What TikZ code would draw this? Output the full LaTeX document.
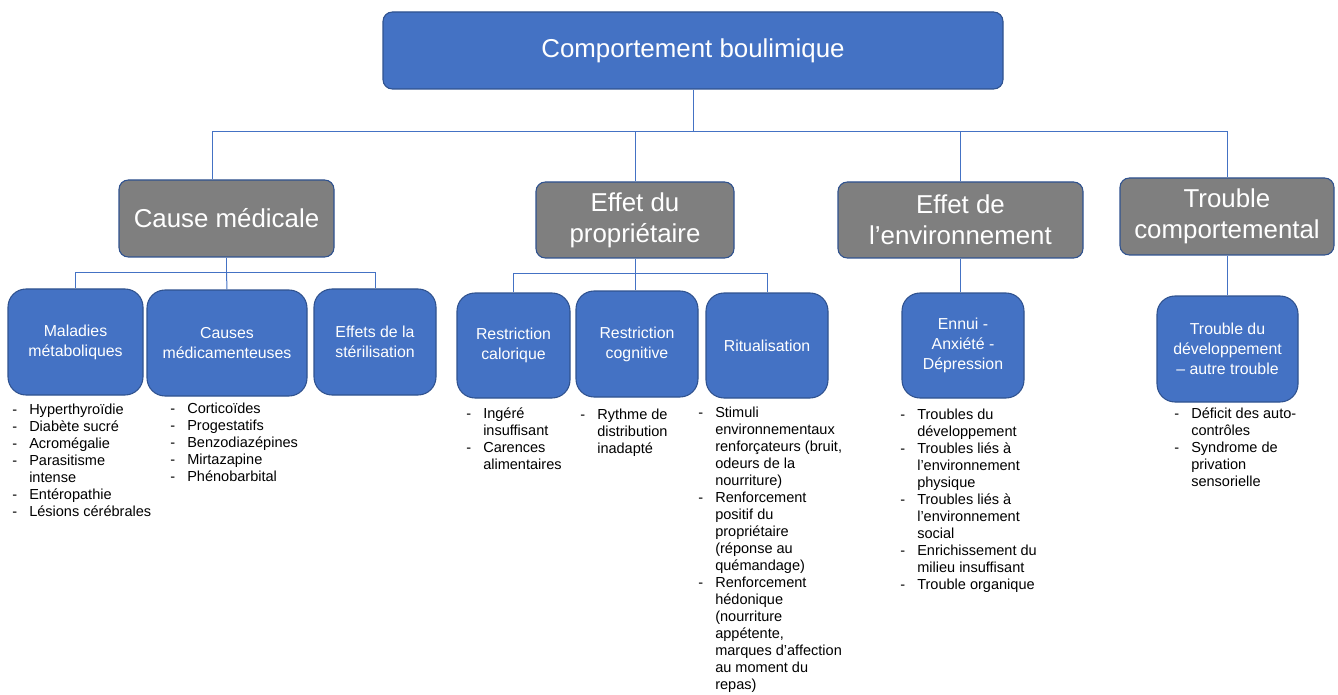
\documentclass[tikz,border=0pt]{standalone}
\usepackage{fontspec}
\setmainfont{Liberation Sans}
\usetikzlibrary{calc}
\definecolor{bfill}{HTML}{4472C4}
\definecolor{bdraw}{HTML}{2F528F}
\definecolor{gfill}{HTML}{7F7F7F}
\definecolor{lcol}{HTML}{4472C4}
\newlength{\pxu}\setlength{\pxu}{0.75pt}
\newcommand{\itm}[1]{\makebox[17\pxu][l]{-}#1}
\newcommand{\cnt}[1]{\hspace*{17\pxu}#1}
\tikzset{
  x=0.75pt, y=-0.75pt,
  topbox/.style={draw=bdraw, fill=bfill, line width=0.8pt, rounded corners=7pt, text=white,
    font=\fontsize{19.4}{23.25}\selectfont, align=center, inner sep=0pt},
  graybox/.style={draw=bdraw, fill=gfill, line width=0.8pt, rounded corners=7pt, text=white,
    font=\fontsize{19.4}{23.25}\selectfont, align=center, inner sep=0pt},
  bluebox/.style={draw=bdraw, fill=bfill, line width=0.8pt, rounded corners=13.5pt, text=white,
    font=\fontsize{11.9}{15}\selectfont, align=center, inner sep=0pt},
  lst/.style={anchor=north west, inner sep=0pt, align=left, text=black,
    font=\fontsize{10.9}{12.75}\selectfont},
  conn/.style={draw=lcol, line width=0.75pt},
}
\begin{document}
\begin{tikzpicture}
\useasboundingbox (0,0) rectangle (1338,695);
% top
\node[topbox, minimum width=620*0.75pt, minimum height=77*0.75pt] (top) at (693,50.5) {Comportement boulimique};
% level 1
\node[graybox, minimum width=215*0.75pt, minimum height=77*0.75pt] (cm) at (226.5,218.5) {Cause médicale};
\node[graybox, minimum width=198*0.75pt, minimum height=76*0.75pt] (ep) at (635,220) {Effet du\\propriétaire};
\node[graybox, minimum width=245*0.75pt, minimum height=76*0.75pt] (env) at (960.5,220) {Effet de\\l’environnement};
\node[graybox, minimum width=214*0.75pt, minimum height=77*0.75pt] (tc) at (1227,216.5) {Trouble\\comportemental};
% level 2
\node[bluebox, minimum width=135*0.75pt, minimum height=106*0.75pt] (mm) at (75.5,342) {Maladies\\métaboliques};
\node[bluebox, minimum width=160*0.75pt, minimum height=106*0.75pt] (cmed) at (227,343) {Causes\\médicamenteuses};
\node[bluebox, minimum width=122*0.75pt, minimum height=106*0.75pt] (ster) at (375,342) {Effets de la\\stérilisation};
\node[bluebox, minimum width=113*0.75pt, minimum height=105*0.75pt] (rcal) at (513.5,345.5) {Restriction\\calorique};
\node[bluebox, minimum width=122*0.75pt, minimum height=106*0.75pt] (rcog) at (637,344) {Restriction\\cognitive};
\node[bluebox, minimum width=122*0.75pt, minimum height=105*0.75pt] (rit) at (767,345.5) {Ritualisation};
\node[bluebox, minimum width=122*0.75pt, minimum height=105*0.75pt] (ennui) at (963,345.5) {Ennui -\\Anxiété -\\Dépression};
\node[bluebox, minimum width=141*0.75pt, minimum height=106*0.75pt] (tdev) at (1227.5,349) {Trouble du\\développement\\– autre trouble};
% connectors
\draw[conn] (top.south) -- ++(0,42) coordinate (hub);
\draw[conn] (hub) -| ($(cm.north)+(-14.5,0)$);
\draw[conn] (hub) -| (ep.north);
\draw[conn] (hub) -| (env.north);
\draw[conn] (hub) -| (tc.north);
\draw[conn] (cm.south) -- ++(0,15) coordinate (hcm);
\draw[conn] (hcm) -| (mm.north);
\draw[conn] (hcm) -- (cmed.north);
\draw[conn] (hcm) -| (ster.north);
\draw[conn] (ep.south) -- ++(0,15) coordinate (hep);
\draw[conn] (hep) -| (rcal.north);
\draw[conn] (hep) -- (hep |- rcog.north);
\draw[conn] (hep) -| (rit.north);
\draw[conn] (env.south) -- (env.south |- ennui.north);
\draw[conn] (tc.south) -- (tc.south |- tdev.north);
% lists
\node[lst] (l1) at (12,404) {\itm{Hyperthyroïdie}\\\itm{Diabète sucré}\\\itm{Acromégalie}\\\itm{Parasitisme}\\\cnt{intense}\\\itm{Entéropathie}\\\itm{Lésions cérébrales}};
\node[lst] (l2) at (170,403) {\itm{Corticoïdes}\\\itm{Progestatifs}\\\itm{Benzodiazépines}\\\itm{Mirtazapine}\\\itm{Phénobarbital}};
\node[lst] (l3) at (466,408) {\itm{Ingéré}\\\cnt{insuffisant}\\\itm{Carences}\\\cnt{alimentaires}};
\node[lst] (l4) at (580,409) {\itm{Rythme de}\\\cnt{distribution}\\\cnt{inadapté}};
\node[lst] (l5) at (698,407) {\itm{Stimuli}\\\cnt{environnementaux}\\\cnt{renforçateurs (bruit,}\\\cnt{odeurs de la}\\\cnt{nourriture)}\\\itm{Renforcement}\\\cnt{positif du}\\\cnt{propriétaire}\\\cnt{(réponse au}\\\cnt{quémandage)}\\\itm{Renforcement}\\\cnt{hédonique}\\\cnt{(nourriture}\\\cnt{appétente,}\\\cnt{marques d’affection}\\\cnt{au moment du}\\\cnt{repas)}};
\node[lst] (l6) at (900,409) {\itm{Troubles du}\\\cnt{développement}\\\itm{Troubles liés à}\\\cnt{l’environnement}\\\cnt{physique}\\\itm{Troubles liés à}\\\cnt{l’environnement}\\\cnt{social}\\\itm{Enrichissement du}\\\cnt{milieu insuffisant}\\\itm{Trouble organique}};
\node[lst] (l7) at (1174,408) {\itm{Déficit des auto-}\\\cnt{contrôles}\\\itm{Syndrome de}\\\cnt{privation}\\\cnt{sensorielle}};
\end{tikzpicture}
\end{document}
